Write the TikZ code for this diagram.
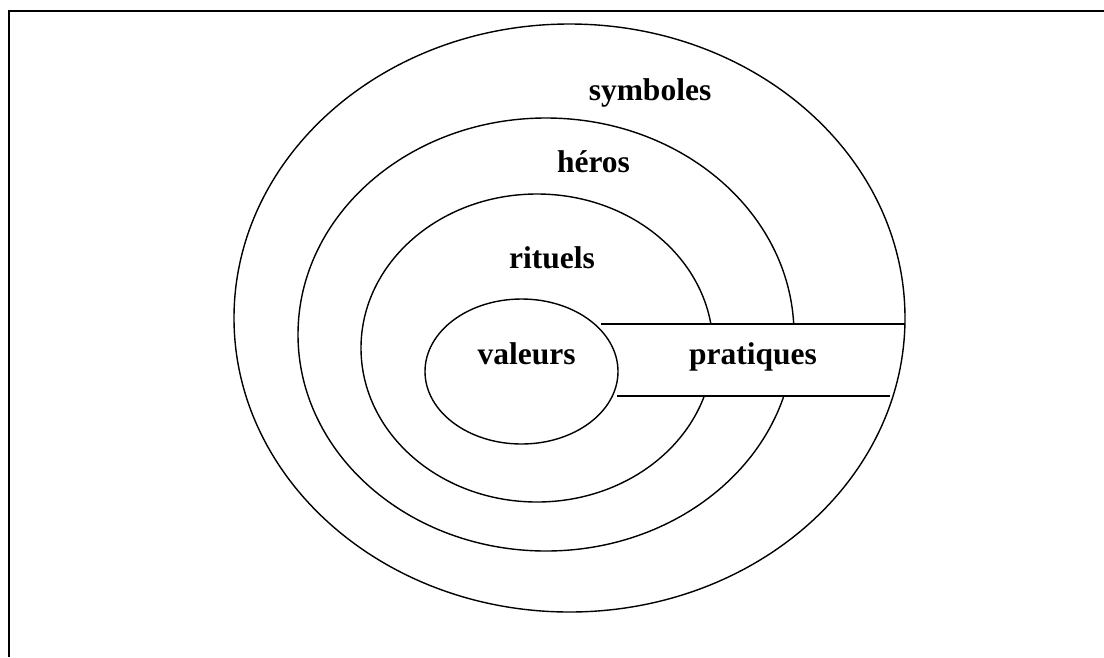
\documentclass[tikz,border=0pt]{standalone}
\usepackage{fontspec}
\setmainfont{Liberation Serif}
\tikzset{ring/.style={draw=black,line width=1.4pt},
frameline/.style={draw=black,line width=1.8pt},
lab/.style={font=\bfseries\fontsize{31.5}{36}\selectfont,text=black,inner sep=0pt,anchor=base}}
\begin{document}
\begin{tikzpicture}[x=1pt,y=-1pt]
\useasboundingbox (0,0) rectangle (1104,657);
\fill[white] (0,0) rectangle (1104,657);
\draw[frameline] (9,657) -- (9,11) -- (1104,11);
\draw[ring] (546,334.5) ellipse [x radius=248,y radius=216.5];
\draw[ring] (537,348) ellipse [x radius=176,y radius=154];
\fill[white] (600,325) rectangle (900,395);
\draw[ring] (569.5,318) ellipse [x radius=335.5,y radius=294];
\draw[ring] (521.5,371.5) ellipse [x radius=96.5,y radius=72.5];
\coordinate (ta) at (601,324);
\coordinate (tb) at (905,324);
\coordinate (ba) at (617,396);
\coordinate (bb) at (890,396);
\draw[ring] (ta) -- (tb);
\draw[ring] (ba) -- (bb);
\node[lab] (sym) at (650,100) {symboles};
\node[lab] (her) at (593.5,172) {héros};
\node[lab] (rit) at (552,268) {rituels};
\node[lab] (val) at (526.5,364) {valeurs};
\node[lab] (pra) at (753,364) {pratiques};
\end{tikzpicture}
\end{document}
